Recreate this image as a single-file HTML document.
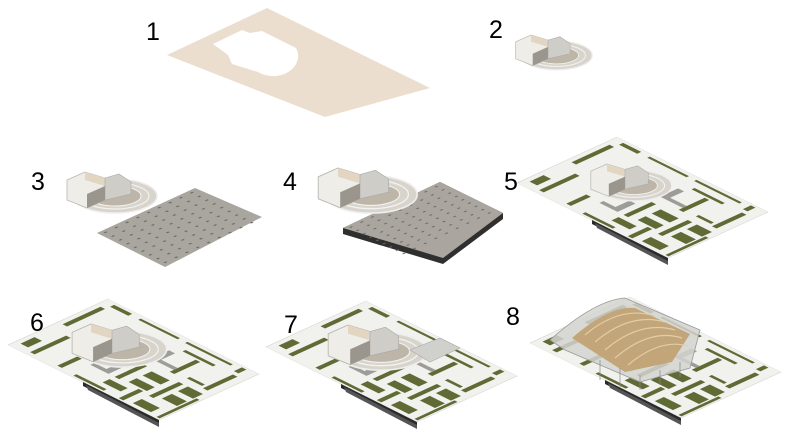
<!DOCTYPE html>
<html><head><meta charset="utf-8"><style>
html,body{margin:0;padding:0;background:#fff;width:800px;height:430px;overflow:hidden}
svg{display:block}
text{font-family:"Liberation Sans",sans-serif;font-size:25px;fill:#000}
</style></head><body>
<svg width="800" height="430" viewBox="0 0 800 430" xmlns="http://www.w3.org/2000/svg">
<defs>
<pattern id="posts" width="11" height="11" patternUnits="userSpaceOnUse">
  <rect x="4" y="4" width="2" height="2.5" fill="#6a6864"/>
</pattern>
<g id="bld">
  <ellipse cx="10" cy="4" rx="42" ry="17" fill="#d8d4cc" stroke="#eee" stroke-width="1.5"/>
  <ellipse cx="10" cy="4" rx="34" ry="13" fill="none" stroke="#f2f2f0" stroke-width="1.2"/>
  <ellipse cx="10" cy="4" rx="26" ry="10" fill="#bdb5a8" stroke="#f2f2f0" stroke-width="1"/>
  <polygon points="-38,-12 -20,-20 0,-14 0,8 -18,16 -38,8" fill="#eeede8" stroke="#b8b6b0" stroke-width="0.8"/>
  <polygon points="-20,-20 0,-14 0,-6 -20,-12" fill="#e2d6c2"/>
  <polygon points="0,-14 14,-18 26,-10 26,2 0,8" fill="#cfcdc8" stroke="#aaa" stroke-width="0.6"/>
  <polygon points="0,-6 0,8 -18,16 -18,2" fill="#9a968e"/>
</g>
<g id="plate">
  <g transform="matrix(1.51,0.75,1.0,-0.46,0,0)">
    <rect x="0" y="0" width="100" height="100" fill="#f1f1ee" stroke="#d8d8d4" stroke-width="0.5"/>
    <g fill="#5f6a35">
      <rect x="3" y="8" width="5" height="14"/>
      <rect x="3" y="50" width="3" height="38"/>
      <rect x="12" y="4" width="3" height="36"/>
      <rect x="6" y="93" width="12" height="4"/>
      <rect x="24" y="94" width="26" height="2.5"/>
      <rect x="55" y="94" width="30" height="2.5"/>
      <rect x="90" y="90" width="3" height="8"/>
      <rect x="30" y="4" width="3" height="20"/>
      <rect x="42" y="2" width="20" height="3"/>
      <rect x="56" y="10" width="12" height="7"/>
      <rect x="56" y="22" width="3" height="28"/>
      <rect x="64" y="24" width="12" height="8"/>
      <rect x="64" y="38" width="12" height="9"/>
      <rect x="72" y="2" width="3" height="20"/>
      <rect x="80" y="4" width="12" height="9"/>
      <rect x="80" y="20" width="3" height="30"/>
      <rect x="86" y="24" width="10" height="10"/>
      <rect x="86" y="40" width="10" height="10"/>
      <rect x="70" y="56" width="3" height="26"/>
      <rect x="80" y="58" width="10" height="3"/>
      <rect x="92" y="56" width="3" height="30"/>
      <rect x="60" y="84" width="20" height="3"/>
      <rect x="97" y="2" width="2" height="40"/>
    </g>
    <g fill="#9c9c98">
      <polygon points="40,22 52,22 52,40 48,40 48,26 40,26"/>
      <polygon points="55,60 70,60 70,64 59,64 59,78 55,78"/>
    </g>
  </g>
  <polygon points="75,37 151,75 151,79 75,41" fill="#2a2a2a"/>
  <polygon points="78,40 151,78 151,82 80,45" fill="#555"/>
</g>
</defs>

<!-- 1 -->
<polygon points="167,55 267,8 430,88 325,117" fill="#ebdecf"/>
<path d="M213,44 L242,30 L250,33 L262,31 L296,48 A25,20 0 0 1 258,72 L232,64 L228,55 Z" fill="#fff"/>

<!-- 2 -->
<g transform="translate(548,52) scale(0.85)"><use href="#bld"/></g>

<!-- 3 -->
<g transform="translate(105,192)"><use href="#bld"/></g>
<polygon points="97,233 195,188 262,217 165,267" fill="#a9a59f"/>
<g transform="matrix(0.68,0.34,0.98,-0.45,97,233)"><rect x="0" y="0" width="98" height="98" fill="url(#posts)"/></g>

<!-- 4 -->
<polygon points="343,228 440,182 503,213 503,219 443,264 343,234" fill="#2f2f2f"/>
<polygon points="343,228 440,182 503,213 443,258" fill="#aaa69f"/>
<g transform="matrix(0.6,0.3,0.97,-0.46,343,228)"><rect x="0" y="0" width="98" height="98" fill="url(#posts)"/></g>
<g transform="translate(360,190) scale(1.1)"><use href="#bld"/></g>

<!-- 5 -->
<g transform="translate(517,183)"><use href="#plate"/></g>
<g transform="translate(625,182) scale(0.9)"><use href="#bld"/></g>

<!-- 6 -->
<g transform="translate(8,345)"><use href="#plate"/></g>
<g transform="translate(112,345) scale(1.05)"><use href="#bld"/></g>

<!-- 7 -->
<g transform="translate(266,347)"><use href="#plate"/></g>
<g transform="translate(370,347) scale(1.1)"><use href="#bld"/></g>
<polygon points="410,350 440,338 460,348 430,362" fill="#d0d0cc" stroke="#aaa" stroke-width="0.6"/>

<!-- 8 -->
<g transform="translate(530,343)"><use href="#plate"/></g>
<g>
  <path d="M550,340 Q595,300 625,298 L700,330 L690,368 L640,382 L565,350 Z" fill="#d4d4d0" fill-opacity="0.85" stroke="#999" stroke-width="0.8"/>
  <path d="M572,338 Q610,305 635,308 L690,334 L672,362 L625,372 Z" fill="#c3a57a"/>
  <g stroke="#e2cda6" stroke-width="1.2" fill="none">
    <path d="M585,335 Q620,305 655,316"/><path d="M595,342 Q630,312 665,322"/><path d="M605,350 Q640,320 675,330"/><path d="M615,358 Q650,328 682,338"/><path d="M628,365 Q660,338 688,346"/>
  </g>
  <g stroke="#888" stroke-width="0.7"><path d="M600,360v20M620,368v20M640,375v15M660,370v15M680,362v15"/></g>
</g>

<text x="146" y="40">1</text>
<text x="489" y="38">2</text>
<text x="31" y="190">3</text>
<text x="283" y="190">4</text>
<text x="504" y="190">5</text>
<text x="30" y="331">6</text>
<text x="284" y="333">7</text>
<text x="506" y="325">8</text>
</svg>
</body></html>
